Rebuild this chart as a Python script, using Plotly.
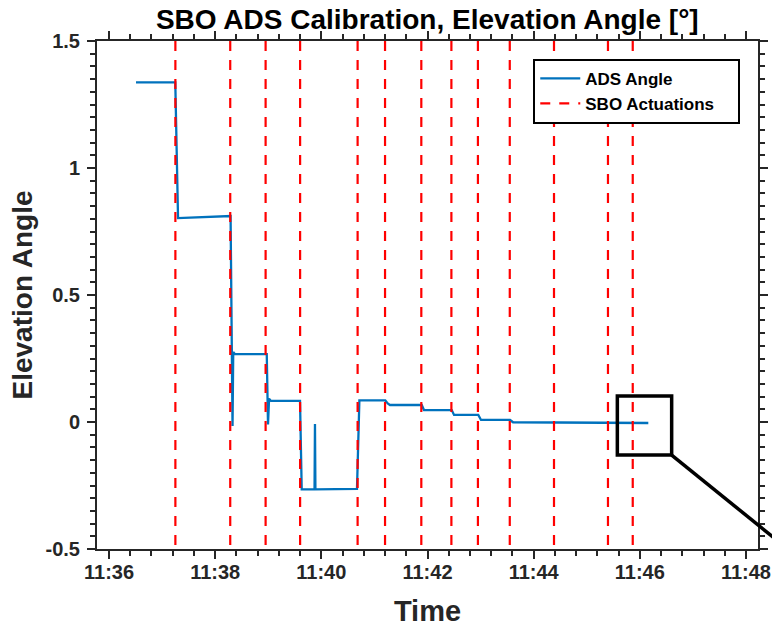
import plotly.graph_objects as go

DAY = "2020-01-01 "

# ADS elevation angle samples (time, degrees)
ads_time = ["11:36:30.5", "11:37:14.9", "11:37:18.0", "11:38:17.4", "11:38:19.6", "11:38:20.4",
            "11:38:22.5", "11:38:58.3", "11:38:59.7", "11:39:00.9", "11:39:03.0", "11:39:35.9",
            "11:39:37.8", "11:39:52.3", "11:39:52.8", "11:39:53.3", "11:40:40.3", "11:40:43.0",
            "11:41:12.3", "11:41:15.0", "11:41:17.6", "11:41:53.5", "11:41:56.0", "11:42:27.4",
            "11:42:30.0", "11:42:57.4", "11:43:00.5", "11:43:33.3", "11:43:36.7", "11:44:30.0",
            "11:45:20.0", "11:46:09.6"]
ads_angle = [1.337, 1.337, 0.803, 0.811, -0.016, 0.275,
             0.267, 0.267, -0.010, 0.092, 0.083, 0.083,
             -0.265, -0.265, -0.008, -0.265, -0.263, 0.085,
             0.085, 0.073, 0.067, 0.067, 0.047, 0.047,
             0.028, 0.028, 0.008, 0.008, -0.001, -0.002,
             -0.003, -0.004]

# SBO actuation times
sbo_time = ["11:37:15", "11:38:17", "11:38:57", "11:39:36", "11:40:41", "11:41:12", "11:41:53",
            "11:42:27", "11:42:57", "11:43:33", "11:44:23", "11:45:24", "11:45:52"]

# axes
x_range = ["11:35:46.4", "11:48:13.6"]
y_range = [-0.5, 1.5]
y_tickvals = [-0.5, 0, 0.5, 1, 1.5]
y_ticktext = ["-0.5", "0", "0.5", "1", "1.5"]

# zoom box (data region highlighted)
zoom_x = ["11:45:34.6", "11:46:36.0"]
zoom_y = [-0.130, 0.102]

AX = "#262626"
FONT = "Liberation Sans, Arial, Helvetica, sans-serif"

fig = go.Figure()

vx, vy = [], []
for t in sbo_time:
    vx += [DAY + t, DAY + t, None]
    vy += [y_range[1], y_range[0], None]

fig.add_trace(go.Scatter(
    x=[DAY + t for t in ads_time], y=ads_angle, mode="lines", name="ADS Angle",
    line=dict(color="#0072BD", width=2.3)))
fig.add_trace(go.Scatter(
    x=vx, y=vy, mode="lines", name="SBO Actuations\u00a0\u00a0\u00a0\u00a0",
    line=dict(color="#FF0000", width=2.2, dash="10px,9px")))

# zoom rectangle
fig.add_shape(type="rect", xref="x", yref="y",
              x0=DAY + zoom_x[0], x1=DAY + zoom_x[1], y0=zoom_y[0], y1=zoom_y[1],
              line=dict(color="black", width=3.5), layer="above")

# connector line from box corner toward outside inset
def _sec(s):
    h, m, rest = s.split(":")
    return int(h) * 3600 + int(m) * 60 + float(rest)
xr0, xr1 = _sec(x_range[0]), _sec(x_range[1])
cx = (_sec(zoom_x[1]) - xr0) / (xr1 - xr0)
cy = (zoom_y[0] - y_range[0]) / (y_range[1] - y_range[0])
fig.add_shape(type="line", xref="paper", yref="paper",
              x0=cx, y0=cy, x1=cx + 0.18, y1=cy - 0.18 * 0.81 * 661 / 508,
              line=dict(color="black", width=3.5), layer="above")

axis_common = dict(
    showline=True, linewidth=2, linecolor=AX, mirror="ticks",
    ticks="outside", ticklen=8, tickwidth=2, tickcolor=AX,
    showgrid=False, zeroline=False, automargin=False,
    tickfont=dict(family=FONT, size=20, color=AX, weight="bold"),
)

fig.update_layout(
    width=772, height=627,
    margin=dict(l=97, r=14, t=41, b=78, autoexpand=False),
    paper_bgcolor="white", plot_bgcolor="white",
    title=dict(text="SBO ADS Calibration, Elevation Angle [°]", x=0.5535, xanchor="center",
               y=0.969, yanchor="middle", yref="container", automargin=False,
               font=dict(family=FONT, size=28, color="black", weight="bold")),
    xaxis=dict(
        type="date", range=[DAY + x_range[0], DAY + x_range[1]],
        tick0=DAY + "11:36:00", dtick=120000, tickformat="%H:%M",
        minor=dict(tick0=DAY + "11:36:00", dtick=24000, ticks="outside", ticklen=5,
                   tickwidth=1.5, tickcolor=AX),
        title=dict(text="Time", standoff=19,
                   font=dict(family=FONT, size=29, color=AX, weight="bold")),
        ticklabelstandoff=-4,
        **axis_common),
    yaxis=dict(
        range=y_range, tickmode="array", tickvals=y_tickvals, ticktext=y_ticktext,
        minor=dict(tick0=0, dtick=0.05, ticks="outside", ticklen=5, tickwidth=1.5, tickcolor=AX),
        title=dict(text="Elevation Angle", standoff=5,
                   font=dict(family=FONT, size=28, color=AX, weight="bold")),
        ticklabelstandoff=3,
        **axis_common),
    legend=dict(
        x=0.660, y=0.965, xanchor="left", yanchor="top",
        bgcolor="white", bordercolor="black", borderwidth=2,
        font=dict(family=FONT, size=17, color="black", weight="bold"),
        itemwidth=40, tracegroupgap=0),
    showlegend=True,
)

fig.write_html("out.html", config={"displayModeBar": False},
               post_script="document.body.style.margin='0px';")
